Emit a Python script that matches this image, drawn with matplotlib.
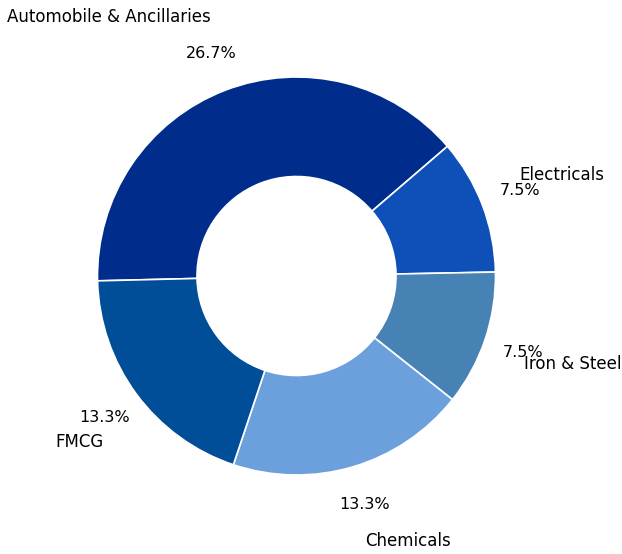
import matplotlib
matplotlib.use("Agg")
import matplotlib.pyplot as plt
import numpy as np

categories = ["Automobile & Ancillaries", "Electricals", "Iron & Steel", "Chemicals", "FMCG"]
values = [26.7, 7.5, 7.5, 13.3, 13.3]
colors = ["#002D8C", "#0F50B8", "#4682B4", "#6CA0DC", "#004D98"]
# fine-tuning of label placement (data units) relative to labeldistance position
label_offsets = [(-0.442, -0.004), (0.026, 0.01), (0.06, 0.004), (0.159, 0.009), (0.037, 0.0)]

total = sum(values)

fig = plt.figure(figsize=(6.22, 5.54), dpi=100)
ax = fig.add_axes([0, 0, 1, 1])

wedges, texts, autotexts = ax.pie(
    values,
    labels=categories,
    colors=colors,
    startangle=181.4,
    counterclock=False,
    labeldistance=1.4,
    pctdistance=1.2,
    autopct=lambda p: f"{p * total / 100:.1f}%",
    wedgeprops=dict(width=0.5, edgecolor="white", linewidth=1.2),
    textprops=dict(fontsize=12),
)
for t, (dx, dy) in zip(texts, label_offsets):
    x, y = t.get_position()
    t.set_position((x + dx, y + dy))
    t.set_ha("center")
    t.set_va("center")
for t in autotexts:
    t.set_fontsize(11.5)

r_px = 199.0
cx, cy = 296.5, 276.0
W, H = 622.0, 554.0
ax.set_xlim(-cx / r_px, (W - cx) / r_px)
ax.set_ylim(-(H - cy) / r_px, cy / r_px)
ax.set_aspect("equal")
ax.axis("off")

fig.savefig("out.png", dpi=100)
